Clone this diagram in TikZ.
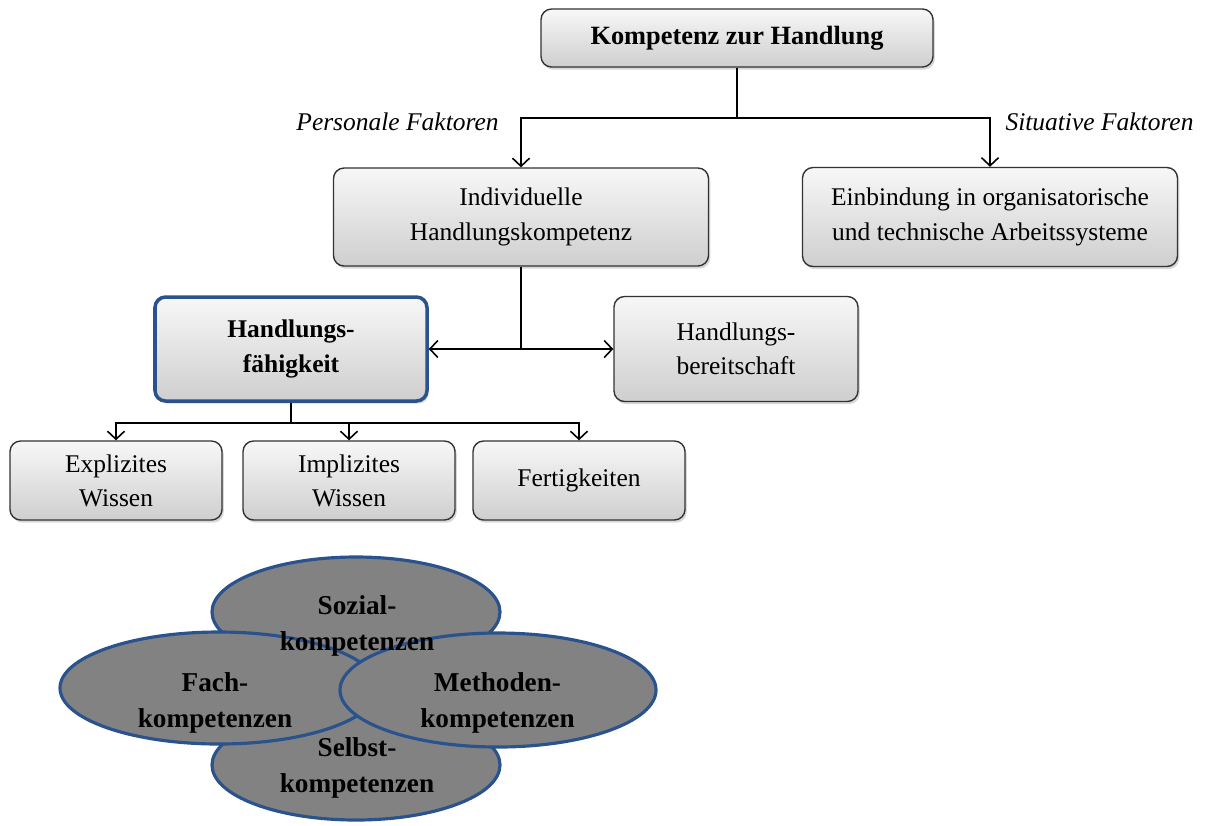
\documentclass[tikz,border=0pt]{standalone}
\usepackage{fontspec}
\setmainfont{Liberation Serif}
\usetikzlibrary{shapes.geometric, arrows.meta, positioning, shadows, calc}
\definecolor{rimblue}{RGB}{42,82,140}
\definecolor{ovalgray}{RGB}{130,130,130}

\begin{document}
\begin{tikzpicture}[
    box/.style={rectangle, draw=black!80, line width=0.8pt, rounded corners=6pt, align=center,
        top color=gray!6, bottom color=gray!38, font=\fontsize{14.5}{19.5}\selectfont,
        drop shadow={shadow xshift=1pt, shadow yshift=-1.5pt, opacity=0.3}},
    keybox/.style={box, draw=rimblue, line width=2pt, font=\fontsize{14.5}{19.5}\selectfont\bfseries},
    kompetenz/.style={ellipse, draw=rimblue, line width=1.8pt, fill=ovalgray},
    factor/.style={font=\fontsize{14.5}{17}\selectfont\itshape},
    klabel/.style={align=center, font=\fontsize{15.5}{20.5}\selectfont\bfseries},
    arrow/.style={-{Straight Barb[length=1.6mm, width=3.4mm]}, line width=0.9pt},
    link/.style={line width=0.9pt},
]

% page frame
\fill[white] (0,0) rectangle (24.14,-16.5);

% top box
\node[box, minimum width=7.84cm, minimum height=1.16cm, font=\fontsize{15}{19}\selectfont\bfseries] (top) at (14.74,-0.76) {Kompetenz zur Handlung};

% personal / situational factors
\node[box, minimum width=7.5cm, minimum height=1.96cm] (indiv) at (10.42,-4.34) {Individuelle\\Handlungskompetenz};
\node[box, minimum width=7.5cm, minimum height=1.98cm] (einb) at (19.8,-4.34) {Einbindung in organisatorische\\und technische Arbeitssysteme};
\node[factor] (personal) at (7.95,-2.44) {Personale Faktoren};
\node[factor] (situativ) at (21.99,-2.44) {Situative Faktoren};

\coordinate (split1) at (14.74,-2.36);
\draw[link] (top.south) -- (split1);
\draw[arrow] (split1) -| (indiv.north);
\draw[arrow] (split1) -| (einb.north);

% ability and readiness
\node[keybox, minimum width=5.44cm, minimum height=2.08cm] (ability) at (5.82,-6.98) {Handlungs-\\fähigkeit};
\node[box, minimum width=4.88cm, minimum height=2.1cm] (ready) at (14.72,-6.98) {Handlungs-\\bereitschaft};

\coordinate (split2) at (indiv.south |- ability.east);
\draw[link] (indiv.south) -- (split2);
\draw[arrow] (split2) -- (ability.east);
\draw[arrow] (split2) -- (ready.west);

% knowledge and skills
\node[box, minimum width=4.24cm, minimum height=1.58cm] (explicit) at (2.32,-9.61) {Explizites\\Wissen};
\node[box, minimum width=4.24cm, minimum height=1.58cm] (implicit) at (6.98,-9.61) {Implizites\\Wissen};
\node[box, minimum width=4.24cm, minimum height=1.58cm] (skills) at (11.58,-9.61) {Fertigkeiten};

\coordinate (split3) at ($(ability.south)+(0,-0.4)$);
\draw[link] (ability.south) -- (split3);
\draw[arrow] (split3) -| (explicit.north);
\draw[arrow] (split3) -| (implicit.north);
\draw[arrow] (split3) -| (skills.north);

% competence ellipses
\node[kompetenz, minimum width=5.76cm, minimum height=2.2cm] (social) at (7.12,-12.24) {};
\node[kompetenz, minimum width=5.76cm, minimum height=2.2cm] (self) at (7.12,-15.3) {};
\node[kompetenz, minimum width=6.36cm, minimum height=2.24cm] (subject) at (4.38,-13.76) {};
\node[kompetenz, minimum width=6.32cm, minimum height=2.28cm] (method) at (9.96,-13.8) {};

\node[klabel] (socialtext) at (7.14,-12.52) {Sozial-\\kompetenzen};
\node[klabel] (selftext) at (7.14,-15.36) {Selbst-\\kompetenzen};
\node[klabel] (subjecttext) at (4.3,-14.06) {Fach-\\kompetenzen};
\node[klabel] (methodtext) at (9.95,-14.06) {Methoden-\\kompetenzen};

\end{tikzpicture}
\end{document}
